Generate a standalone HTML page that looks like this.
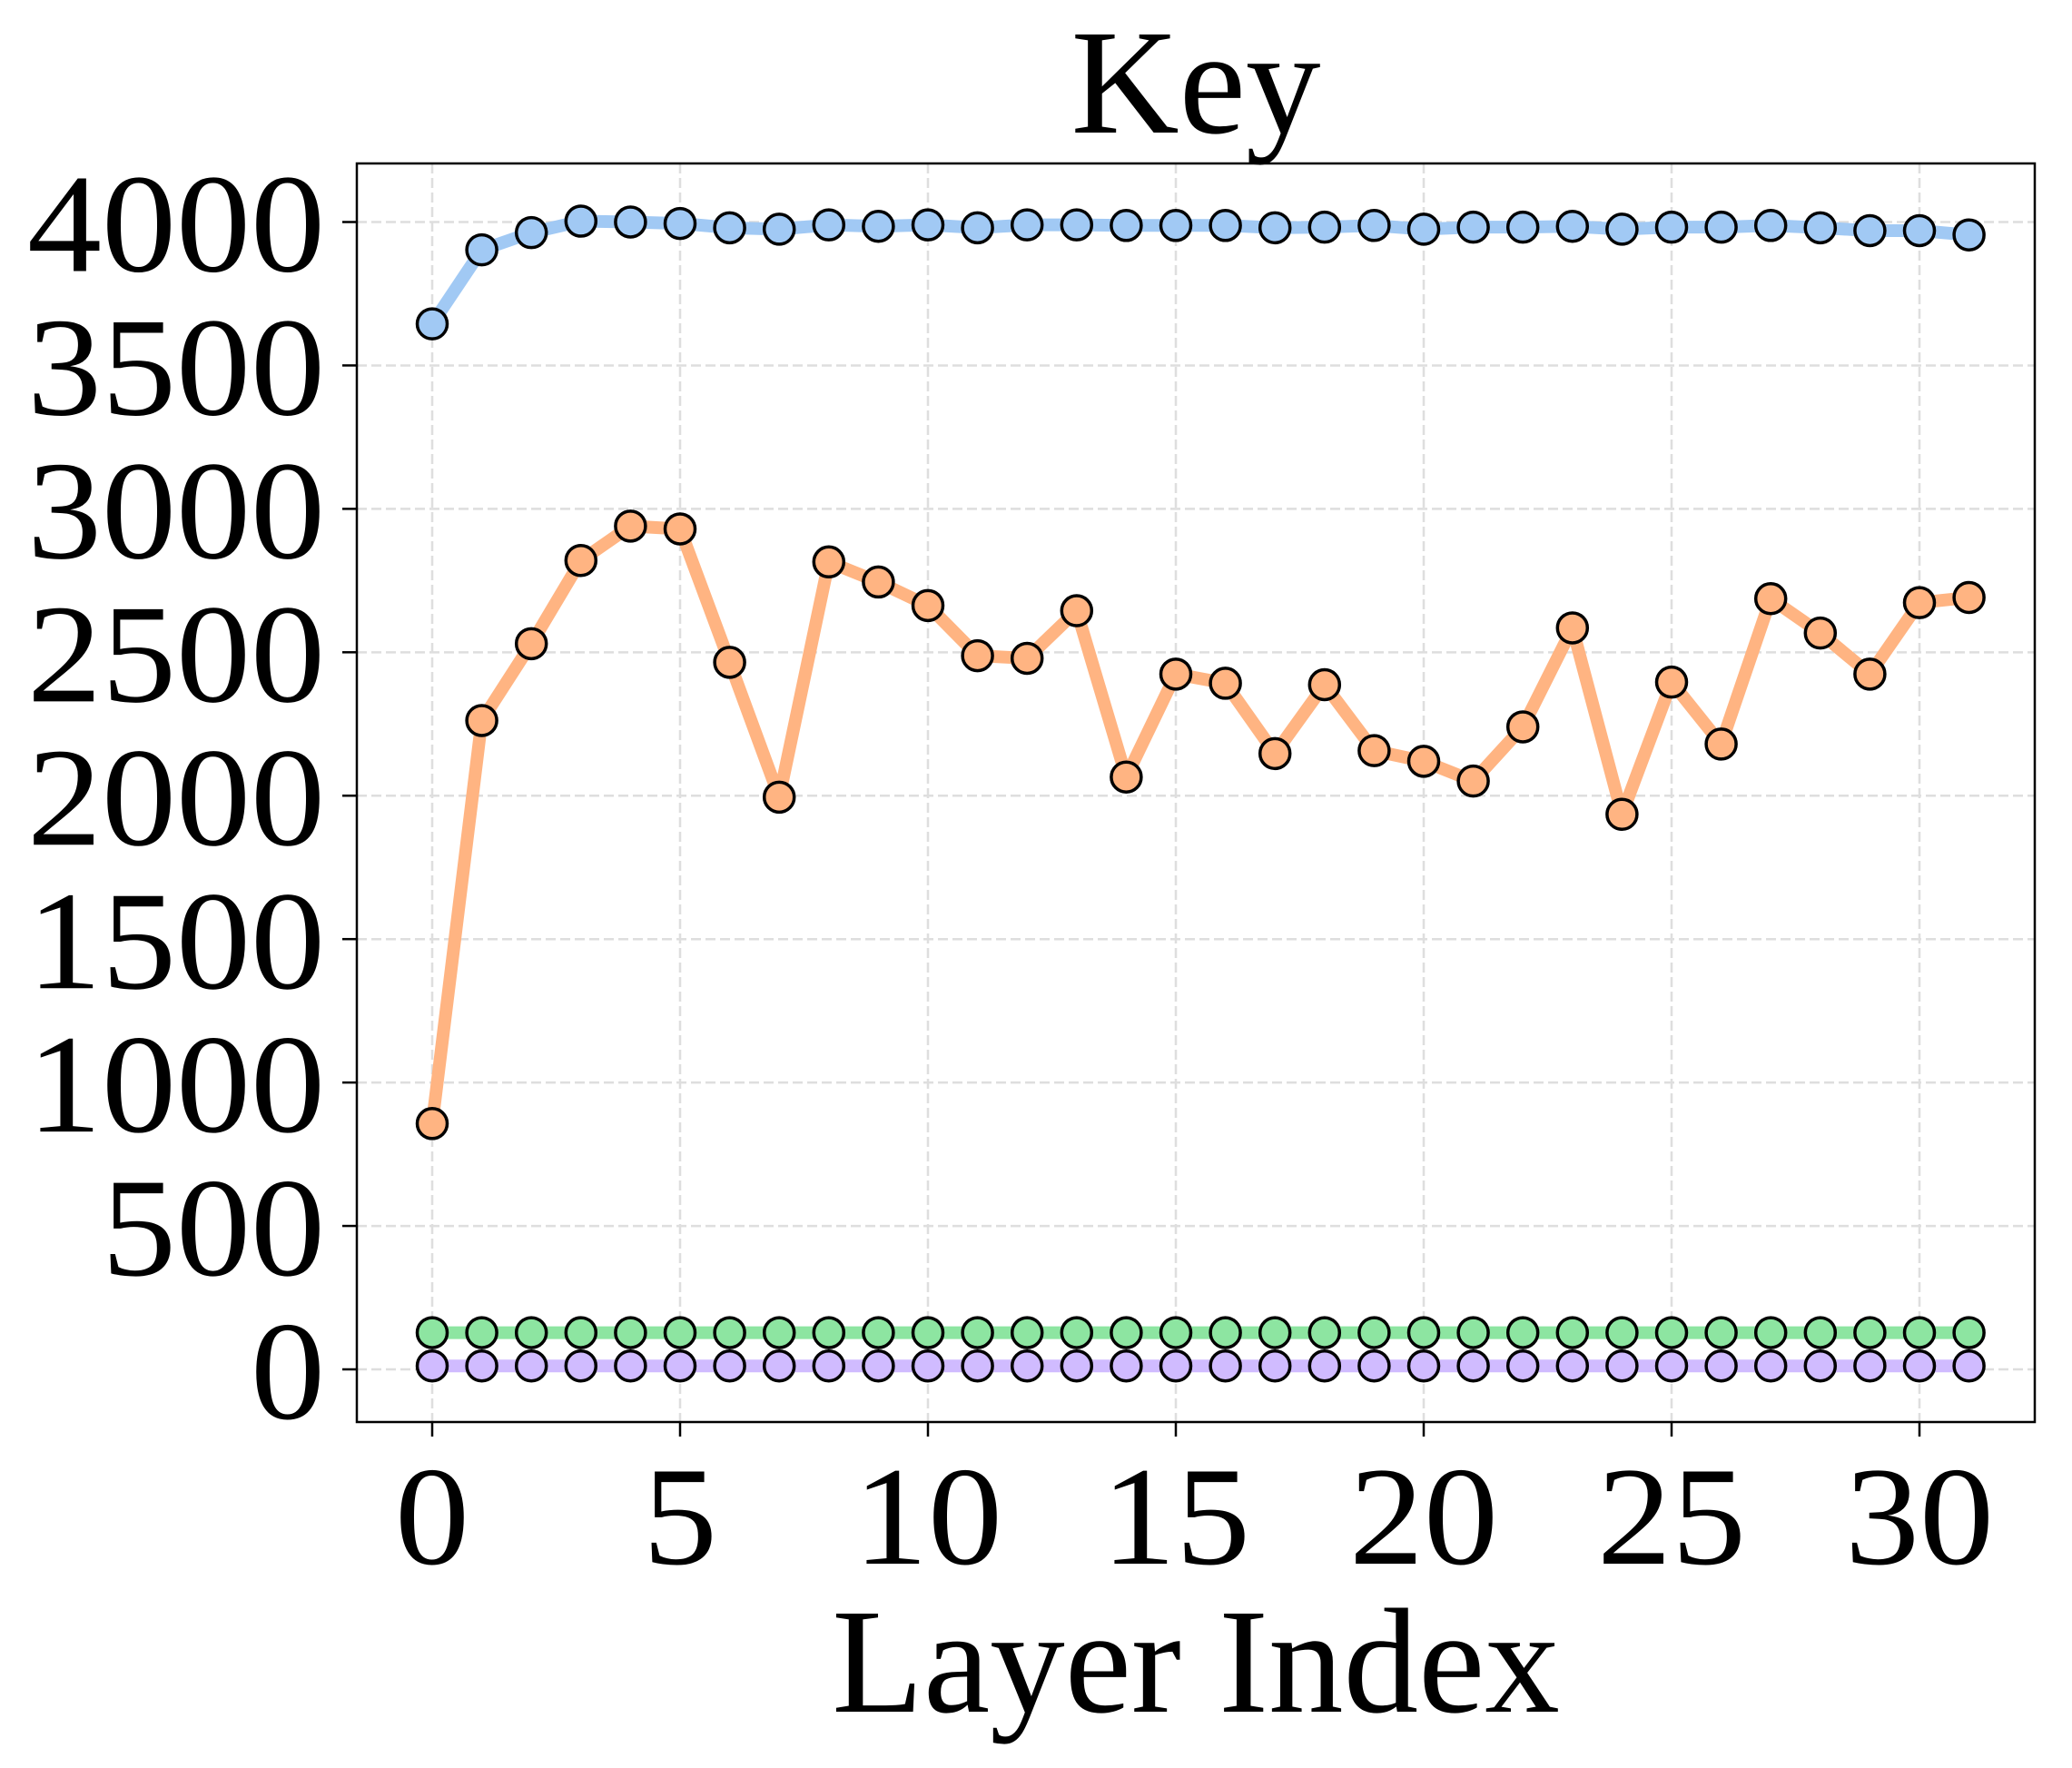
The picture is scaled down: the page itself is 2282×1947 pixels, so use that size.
<!DOCTYPE html>
<html><head><meta charset="utf-8"><style>
html,body{margin:0;padding:0;background:#fff}
svg{display:block}
text{font-family:"Liberation Serif","DejaVu Serif",serif;fill:#000}
</style></head><body>
<svg id="chart" width="2282" height="1947" viewBox="0 0 2282 1947" xmlns="http://www.w3.org/2000/svg">
<rect x="0" y="0" width="2282" height="1947" fill="#fff"/>
<g id="grid"></g>
<g id="series"></g>
<rect x="393" y="180" width="1848" height="1386" fill="none" stroke="#000" stroke-width="2.5"/>
<g id="ticks"></g>
<text x="1317" y="146" font-size="165" text-anchor="middle">Key</text>
<text x="1317" y="1885" font-size="165" text-anchor="middle">Layer Index</text>
</svg>
<script>
const blueValues=[3645,3903,3963,4003,4000,3995,3980,3975,3990,3985,3990,3980,3990,3990,3988,3988,3988,3980,3982,3988,3975,3982,3982,3985,3975,3982,3982,3988,3980,3970,3970,3955];
const orangeValues=[857,2262,2530,2820,2940,2930,2465,1995,2815,2745,2663,2488,2479,2645,2065,2424,2392,2147,2387,2157,2120,2051,2240,2585,1935,2396,2180,2687,2567,2424,2673,2691];
const greenValues=Array(32).fill(128);
const purpleValues=Array(32).fill(12);
const xTicks=[0,5,10,15,20,25,30];
const yTicks=[0,500,1000,1500,2000,2500,3000,3500,4000];

const NS="http://www.w3.org/2000/svg";
function xs(i){return 476+i*54.6;}
function ys(v){return 1508-v*(1263.5/4000);}
function mk(tag,attrs,parent){const e=document.createElementNS(NS,tag);for(const k in attrs)e.setAttribute(k,attrs[k]);parent.appendChild(e);return e;}
const grid=document.getElementById('grid'),ticks=document.getElementById('ticks'),series=document.getElementById('series');
xTicks.forEach(t=>{
  const g=mk('line',{x1:xs(t),x2:xs(t),y1:180,y2:1566,stroke:'#dedede','stroke-width':2.5,'stroke-dasharray':'11,5'},grid);
  
  
  const tk=mk('line',{x1:xs(t),x2:xs(t),y1:1566,y2:1582,stroke:'#000','stroke-width':2.5},ticks);
  
  
  const s=String(t);
  const lb=mk('text',{x:xs(t),y:1722,'font-size':155,'text-anchor':'middle',textLength:82*s.length,lengthAdjust:'spacingAndGlyphs'},ticks);
  lb.textContent=s;
  
  
});
yTicks.forEach(t=>{
  const g=mk('line',{x1:393,x2:2241,y1:ys(t),y2:ys(t),stroke:'#dedede','stroke-width':2.5,'stroke-dasharray':'11,5'},grid);
  
  
  const tk=mk('line',{x1:377,x2:393,y1:ys(t),y2:ys(t),stroke:'#000','stroke-width':2.5},ticks);
  
  
  const s=String(t);
  const lb=mk('text',{x:358,y:ys(t)+54,'font-size':155,'text-anchor':'end',textLength:82*s.length,lengthAdjust:'spacingAndGlyphs'},ticks);
  lb.textContent=s;
  
  
});
function drawSeries(vals,color,name){
  const g=mk('g',{},series);
  
  
  const pts=vals.map((v,i)=>xs(i)+','+ys(v)).join(' ');
  const pl=mk('polyline',{points:pts,fill:'none',stroke:color,'stroke-width':14,'stroke-linejoin':'round','stroke-linecap':'butt'},g);
  
  
  vals.forEach((v,i)=>{
    const c=mk('circle',{cx:xs(i),cy:ys(v),r:16.5,fill:color,stroke:'#000','stroke-width':3.5},g);
    
    
  });
}
drawSeries(blueValues,'#a1c9f4','blue');
drawSeries(orangeValues,'#ffb482','orange');
drawSeries(greenValues,'#8de5a1','green');
drawSeries(purpleValues,'#d0bbff','purple');
</script>
</body></html>
